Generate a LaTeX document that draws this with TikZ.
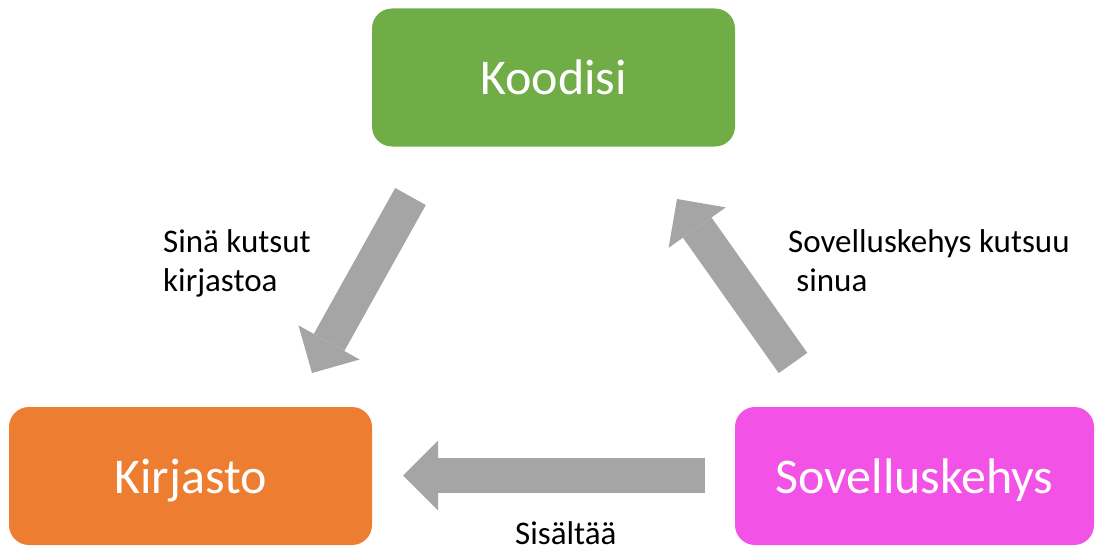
\documentclass[tikz,border=0pt]{standalone}
\usepackage{fontspec}
\setmainfont{Carlito}
\usetikzlibrary{arrows.meta}
\definecolor{cgreen}{HTML}{70AD47}
\definecolor{corange}{HTML}{ED7D31}
\definecolor{cmagenta}{HTML}{F252E5}
\definecolor{cgray}{HTML}{A5A5A5}
\tikzset{
  box/.style={rounded corners=20pt, draw=none, minimum width=363pt, minimum height=138pt,
    inner sep=0pt, text=white, font=\fontsize{50}{60}\selectfont, text height=34pt, text depth=0pt},
  blockarrow/.style={draw=cgray, line width=35pt,
    -{Triangle[length=35pt,width=70pt,line width=0pt]}},
  lbl/.style={inner sep=0pt, anchor=base west, align=left,
    font=\fontsize{33}{39}\selectfont}
}
\begin{document}
\begin{tikzpicture}[x=1pt,y=-1pt]
\useasboundingbox (0,0) rectangle (1095,551);
\node[box, fill=cgreen] (koodisi) at (553.5,77.5) {Koodisi};
\node[box, fill=corange] (kirjasto) at (190.5,476) {Kirjasto};
\node[box, fill=cmagenta, minimum width=359pt] (sovellus) at (914.5,476) {Sovelluskehys};

\coordinate (a1s) at (410.5,196.5);
\coordinate (a1e) at (312,373);
\coordinate (a2s) at (793,363);
\coordinate (a2e) at (677,199);
\coordinate (a3s) at (705,475.5);
\coordinate (a3e) at (403,475.5);
\draw[blockarrow] (a1s) -- (a1e);
\draw[blockarrow] (a2s) -- (a2e);
\draw[blockarrow] (a3s) -- (a3e);

\node[lbl] (l1) at (163,291) {Sinä kutsut\\kirjastoa};
\node[lbl] (l2) at (788,291) {Sovelluskehys kutsuu\\\hspace*{0.25em}sinua};
\node[lbl] (l3) at (515,544) {Sisältää};
\end{tikzpicture}
\end{document}
